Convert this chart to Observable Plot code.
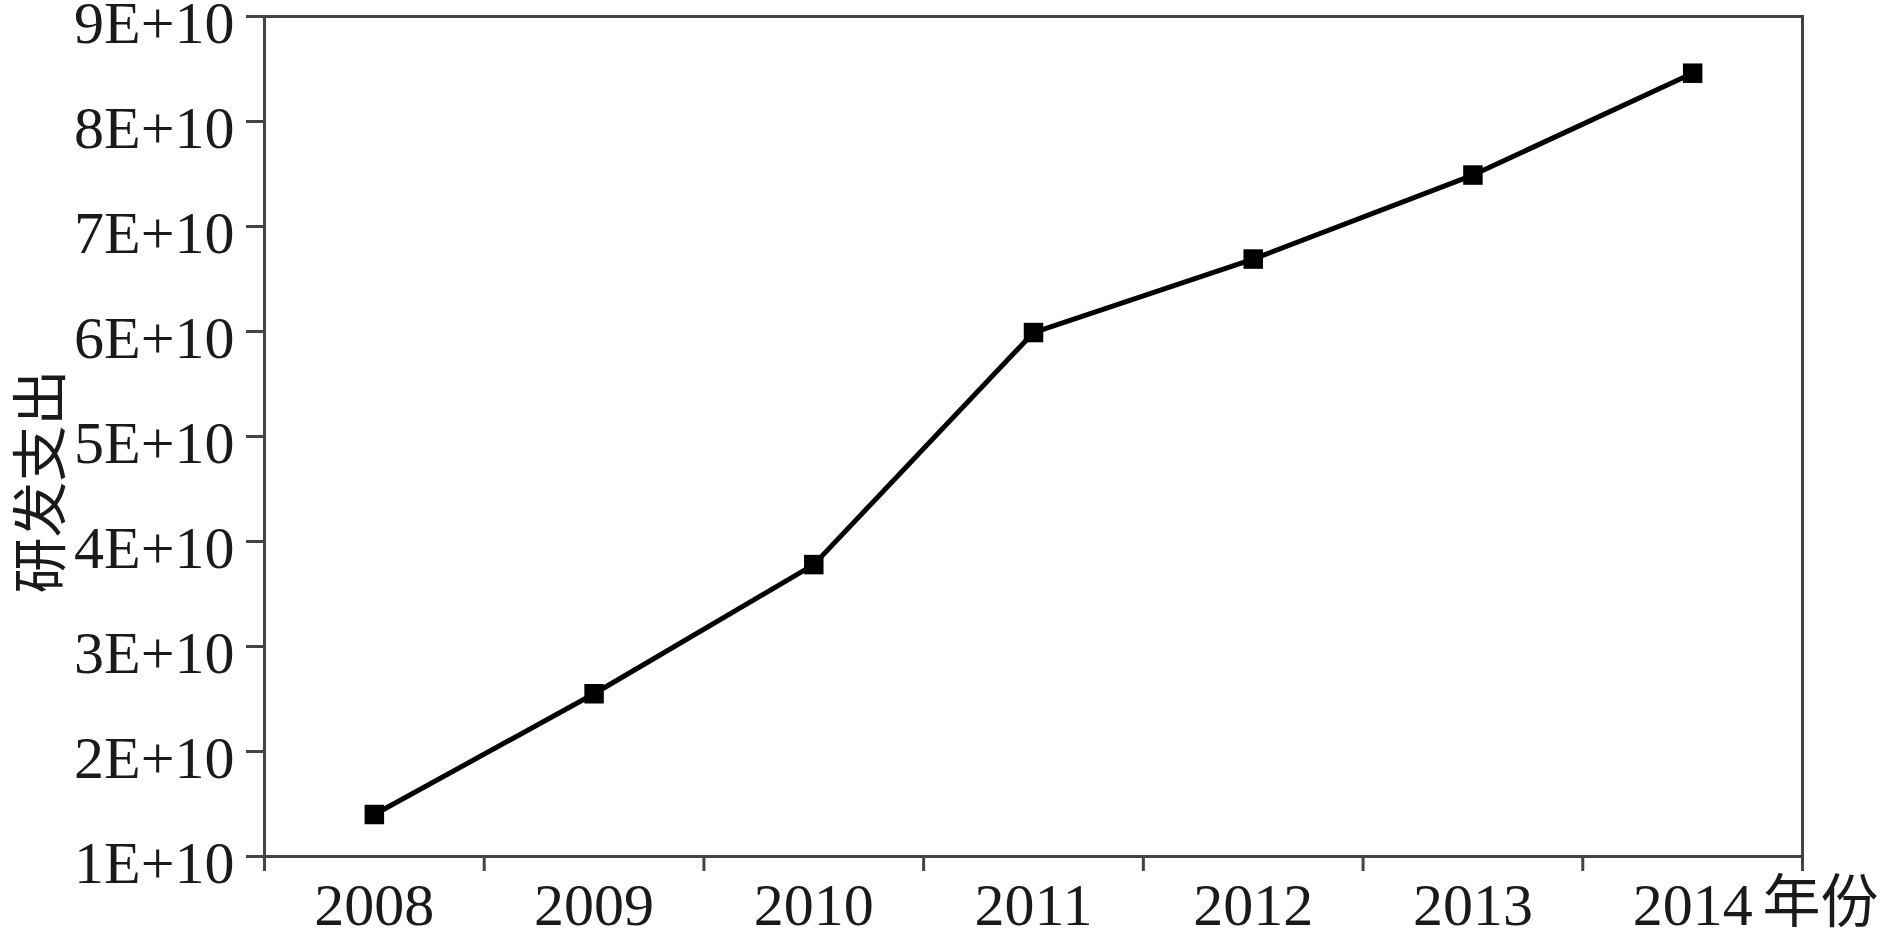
<!DOCTYPE html>
<html>
<head>
<meta charset="utf-8">
<script src="https://cdn.jsdelivr.net/npm/d3@7"></script>
<script src="https://cdn.jsdelivr.net/npm/@observablehq/plot@0.6"></script>
<style>
  html, body { margin: 0; padding: 0; background: #fff; }
</style>
</head>
<body>
<div id="chart"></div>
<script>
const years = [2008, 2009, 2010, 2011, 2012, 2013, 2014];
const spending = [1.40e10, 2.55e10, 3.78e10, 5.99e10, 6.69e10, 7.49e10, 8.46e10];
const yTicks = [1e10, 2e10, 3e10, 4e10, 5e10, 6e10, 7e10, 8e10, 9e10];
const yTickLabels = ["1E+10", "2E+10", "3E+10", "4E+10", "5E+10", "6E+10", "7E+10", "8E+10", "9E+10"];
const xTitle = "年份";
const yTitle = "研发支出";

const data = years.map((year, i) => ({year, value: spending[i]}));
const boundaries = [...years.map(y => y - 0.5), years[years.length - 1] + 0.5];

const serif = "'Liberation Serif', 'Times New Roman', serif";
const cjk = "'Noto Sans CJK SC', sans-serif";

const chart = Plot.plot({
  width: 1887,
  height: 935,
  marginLeft: 264,
  marginRight: 85,
  marginTop: 16,
  marginBottom: 79,
  x: {domain: [boundaries[0], boundaries[boundaries.length - 1]]},
  y: {domain: [yTicks[0], yTicks[yTicks.length - 1]]},
  style: {fontFamily: serif, fontSize: "61px", color: "#1a1a1a", background: "white", overflow: "visible"},
  marks: [
    Plot.axisY(yTicks, {tickSize: 18, strokeWidth: 3, stroke: "#444", tickFormat: () => "", label: null}),
    Plot.axisY(yTicks, {
      tickSize: 0, tickPadding: 30,
      tickFormat: d => yTickLabels[yTicks.indexOf(d)], label: null,
      fontSize: 60, dy: 7
    }),
    Plot.axisX(boundaries, {tickSize: 15, strokeWidth: 3, stroke: "#444", tickFormat: () => "", label: null}),
    Plot.axisX(years, {tickSize: 0, tickPadding: 26, tickFormat: d => String(d), label: null, fontSize: 60}),
    Plot.frame({stroke: "#444", strokeWidth: 3}),
    Plot.line(data, {x: "year", y: "value", stroke: "#000", strokeWidth: 5}),
    Plot.dot(data, {x: "year", y: "value", symbol: "square", r: 11, fill: "#000"}),
    Plot.text([yTitle], {
      frameAnchor: "left", textAnchor: "middle", dx: -222, dy: 45, rotate: -90,
      fontSize: 56, fontFamily: cjk, fill: "#1a1a1a"
    }),
    Plot.text([xTitle], {
      frameAnchor: "bottom-right", dx: -40, dy: 24, textAnchor: "start", lineAnchor: "top",
      fontSize: 58, fontFamily: cjk, fill: "#1a1a1a"
    })
  ]
});
document.getElementById("chart").appendChild(chart);
</script>
</body>
</html>
